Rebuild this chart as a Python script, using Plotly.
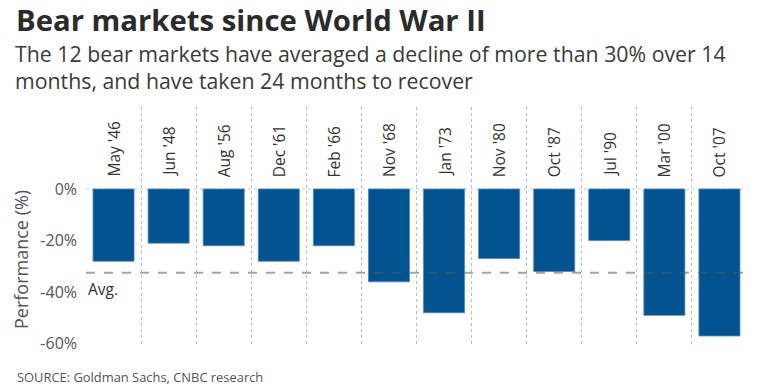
import plotly.graph_objects as go

categories = ["May '46", "Jun '48", "Aug '56", "Dec '61", "Feb '66", "Nov '68",
              "Jan '73", "Nov '80", "Oct '87", "Jul '90", "Mar '00", "Oct '07"]
performance = [-28, -21, -22, -28, -22, -36, -48, -27, -32, -20, -49, -57]
average = -32.5
ytick_vals = [0, -20, -40, -60]
ytick_text = ["0%", "-20%", "-40%", "-60%"]

FONT = "Open Sans"
W, H = 760, 386
ML, MR, MT, MB = 86, 13, 107, 41
PW = W - ML - MR
PH = H - MT - MB

def px_to_paper_x(px):
    return (px - ML) / PW

def px_to_paper_y(py):
    return (H - MB - py) / PH

fig = go.Figure()
fig.add_trace(go.Bar(
    x=categories, y=performance,
    marker=dict(color="#02538f", line=dict(color="#4f86bd", width=0.8)),
    hoverinfo="x+y",
))

annotations = []
for c in categories:
    annotations.append(dict(
        x=c, y=0, xref="x", yref="y", text=c, showarrow=False,
        textangle=-90, xanchor="center", yanchor="bottom", yshift=10,
        font=dict(family=FONT, size=15.5, color="#333333"),
    ))

annotations.append(dict(
    x=0, y=average, xref="paper", yref="y", text="Avg.", showarrow=False,
    xanchor="left", yanchor="top", xshift=0, yshift=-3,
    font=dict(family=FONT, size=15.5, color="#333333"),
))

annotations.append(dict(
    x=px_to_paper_x(21), y=px_to_paper_y(260), xref="paper", yref="paper",
    text="Performance (%)", showarrow=False, textangle=-90,
    xanchor="center", yanchor="middle",
    font=dict(family=FONT, size=18, color="#555555"),
))

subtitle_lines = [
    ("The 12 bear markets have averaged a decline of more than 30% over 14", 53.5),
    ("months, and have taken 24 months to recover", 81),
]
for txt, cy in subtitle_lines:
    annotations.append(dict(
        x=px_to_paper_x(14), y=px_to_paper_y(cy), xref="paper", yref="paper",
        text=txt, showarrow=False, xanchor="left", yanchor="middle",
        align="left", borderpad=0,
        font=dict(family=FONT, size=21.3, color="#3a3a3a"),
    ))

annotations.append(dict(
    x=px_to_paper_x(15), y=px_to_paper_y(377), xref="paper", yref="paper",
    text="SOURCE: Goldman Sachs, CNBC research",
    showarrow=False, xanchor="left", yanchor="middle", align="left",
    font=dict(family=FONT, size=12.9, color="#555555"),
))
annotations.append(dict(
    x=px_to_paper_x(15), y=px_to_paper_y(19.8), xref="paper", yref="paper",
    text="<b>Bear markets since World War II</b>",
    showarrow=False, xanchor="left", yanchor="middle", align="left",
    borderpad=0,
    font=dict(family=FONT, size=29.3, color="#2b2b2b"),
))

shapes = [
    dict(type="line", xref="paper", yref="y", x0=0, x1=1, y0=0, y1=0,
         line=dict(color="#c8c8c8", width=1, dash="dot"), layer="below"),
    dict(type="line", xref="paper", yref="y", x0=0, x1=1, y0=average, y1=average,
         line=dict(color="rgba(90,90,90,0.55)", width=2, dash="dash"), layer="above"),
]

fig.update_layout(
    width=W, height=H,
    margin=dict(l=ML, r=MR, t=MT, b=MB, autoexpand=False),
    paper_bgcolor="white", plot_bgcolor="white",
    bargap=0.255,
    showlegend=False,
    xaxis=dict(
        type="category", range=[-0.5, 11.5],
        showticklabels=False, ticks="",
        tickson="boundaries", showgrid=True,
        gridcolor="#bdbdbd", gridwidth=1, griddash="dot",
        zeroline=False, showline=False,
    ),
    yaxis=dict(
        range=[-60.5, 31.8],
        tickvals=ytick_vals, ticktext=ytick_text,
        showgrid=False, zeroline=False, showline=False,
        ticks="", ticklabelstandoff=8,
        tickfont=dict(family=FONT, size=16, color="#555555"),
    ),
    annotations=annotations,
    shapes=shapes,
)

fig.write_html("out.html", config={"displayModeBar": False},
               post_script="document.body.style.margin='0';")
